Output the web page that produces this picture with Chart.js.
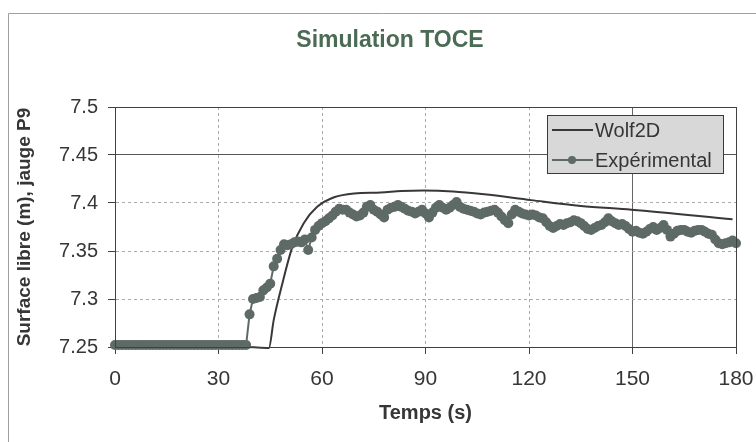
<!DOCTYPE html>
<html>
<head>
<meta charset="utf-8">
<title>Simulation TOCE</title>
<script src="https://cdn.jsdelivr.net/npm/chart.js@4.4.1/dist/chart.umd.min.js"></script>
<style>
  body { margin: 0; background: #fff; }
  canvas { display: block; }
</style>
</head>
<body>
<canvas id="toceChart" width="756" height="442"></canvas>
<script>
const TITLE = "Simulation TOCE";
const X_TITLE = "Temps (s)";
const Y_TITLE = "Surface libre (m), jauge P9";
const WOLF_LABEL = "Wolf2D";
const EXP_LABEL = "Expérimental";

const yTickLabels = ["7.25", "7.3", "7.35", "7.4", "7.45", "7.5"];

// Wolf2D simulation (s, m)
const wolfTimes = [0, 38, 44.6, 46, 48.5, 51.4, 54.7, 58.6, 63.5, 69.3, 77, 83, 89.5, 98, 107, 120.6, 135, 149.7, 179];
const wolfLevels = [7.25, 7.25, 7.249, 7.278, 7.316, 7.354, 7.379, 7.396, 7.406, 7.410, 7.411, 7.4125, 7.413, 7.412, 7.409, 7.403, 7.397, 7.393, 7.383];

// measured levels, one every second
const expTimes = [
    0, 1, 2, 3, 4, 5, 6, 7, 8, 9,
    10, 11, 12, 13, 14, 15, 16, 17, 18, 19,
    20, 21, 22, 23, 24, 25, 26, 27, 28, 29,
    30, 31, 32, 33, 34, 35, 36, 37, 38, 39,
    40, 41, 42, 43, 44, 45, 46, 47, 48, 49,
    50, 51, 52, 53, 54, 55, 56, 57, 58, 59,
    60, 61, 62, 63, 64, 65, 66, 67, 68, 69,
    70, 71, 72, 73, 74, 75, 76, 77, 78, 79,
    80, 81, 82, 83, 84, 85, 86, 87, 88, 89,
    90, 91, 92, 93, 94, 95, 96, 97, 98, 99,
    100, 101, 102, 103, 104, 105, 106, 107, 108, 109,
    110, 111, 112, 113, 114, 115, 116, 117, 118, 119,
    120, 121, 122, 123, 124, 125, 126, 127, 128, 129,
    130, 131, 132, 133, 134, 135, 136, 137, 138, 139,
    140, 141, 142, 143, 144, 145, 146, 147, 148, 149,
    150, 151, 152, 153, 154, 155, 156, 157, 158, 159,
    160, 161, 162, 163, 164, 165, 166, 167, 168, 169,
    170, 171, 172, 173, 174, 175, 176, 177, 178, 179, 180,
];
const expLevels = [
    7.252, 7.252, 7.252, 7.252, 7.252, 7.252, 7.252, 7.252, 7.252, 7.252,
    7.252, 7.252, 7.252, 7.252, 7.252, 7.252, 7.252, 7.252, 7.252, 7.252,
    7.252, 7.252, 7.252, 7.252, 7.252, 7.252, 7.252, 7.252, 7.252, 7.252,
    7.252, 7.252, 7.252, 7.252, 7.252, 7.252, 7.252, 7.252, 7.252, 7.284,
    7.300, 7.301, 7.302, 7.309, 7.312, 7.316, 7.334, 7.342, 7.351, 7.357,
    7.356, 7.357, 7.359, 7.360, 7.359, 7.362, 7.351, 7.364, 7.372, 7.376,
    7.379, 7.381, 7.384, 7.387, 7.391, 7.394, 7.393, 7.393, 7.390, 7.388,
    7.386, 7.387, 7.390, 7.396, 7.398, 7.393, 7.391, 7.388, 7.385, 7.393,
    7.395, 7.396, 7.398, 7.396, 7.394, 7.392, 7.391, 7.389, 7.391, 7.393,
    7.389, 7.385, 7.390, 7.395, 7.398, 7.395, 7.393, 7.395, 7.398, 7.401,
    7.396, 7.394, 7.393, 7.392, 7.391, 7.389, 7.388, 7.390, 7.391, 7.392,
    7.393, 7.390, 7.386, 7.382, 7.379, 7.388, 7.393, 7.391, 7.389, 7.388,
    7.387, 7.388, 7.387, 7.385, 7.384, 7.380, 7.376, 7.374, 7.376, 7.378,
    7.377, 7.379, 7.380, 7.382, 7.381, 7.379, 7.376, 7.373, 7.372, 7.374,
    7.376, 7.377, 7.380, 7.384, 7.381, 7.379, 7.377, 7.378, 7.376, 7.373,
    7.370, 7.371, 7.369, 7.368, 7.370, 7.373, 7.375, 7.372, 7.374, 7.377,
    7.372, 7.365, 7.368, 7.371, 7.372, 7.372, 7.370, 7.369, 7.371, 7.372,
    7.372, 7.370, 7.368, 7.367, 7.362, 7.358, 7.357, 7.358, 7.359, 7.361, 7.358,
];

const FONT = "'Liberation Sans', Arial, sans-serif";
const INK = "#363636";
const WOLF_COLOR = "#383838";
const EXP_COLOR = "#5e6a66";

function toPoints(xs, ys) {
    return xs.map((x, i) => ({ x: x, y: ys[i] }));
}

function isNear(a, b) {
    return Math.abs(a - b) < 1e-6;
}

// frame, plot box, title and the legend box like the Excel original
const decorations = {
    id: "decorations",
    beforeDraw(chart) {
        const ctx = chart.ctx;
        ctx.save();
        ctx.strokeStyle = "#a0a0a0";
        ctx.lineWidth = 1;
        ctx.beginPath();
        ctx.moveTo(8.5, 442);
        ctx.lineTo(8.5, 13.5);
        ctx.lineTo(756, 13.5);
        ctx.stroke();

        ctx.fillStyle = "#4b6b55";
        ctx.font = "bold 23px " + FONT;
        ctx.textAlign = "center";
        ctx.textBaseline = "middle";
        ctx.fillText(TITLE, 390, 41);
        ctx.restore();
    },
    afterDatasetsDraw(chart) {
        const ctx = chart.ctx;
        const area = chart.chartArea;
        ctx.save();
        ctx.strokeStyle = "#404040";
        ctx.lineWidth = 1;
        ctx.strokeRect(area.left + 0.5, area.top + 0.5, area.right - area.left, area.bottom - area.top);
        ctx.restore();
    },
    afterDraw(chart) {
        const ctx = chart.ctx;
        const box = { x: 547, y: 115, w: 176, h: 58 };
        ctx.save();
        ctx.fillStyle = "#d8d8d8";
        ctx.fillRect(box.x, box.y, box.w, box.h);
        ctx.strokeStyle = "#3a3a3a";
        ctx.lineWidth = 1;
        ctx.strokeRect(box.x + 0.5, box.y + 0.5, box.w, box.h);

        const rows = [
            { label: WOLF_LABEL, color: WOLF_COLOR, marker: false, y: box.y + 15 },
            { label: EXP_LABEL, color: EXP_COLOR, marker: true, y: box.y + 45 },
        ];
        ctx.font = "20px " + FONT;
        ctx.textAlign = "left";
        ctx.textBaseline = "middle";
        rows.forEach((row) => {
            ctx.strokeStyle = row.color;
            ctx.lineWidth = 2;
            ctx.beginPath();
            ctx.moveTo(box.x + 5, row.y);
            ctx.lineTo(box.x + 46, row.y);
            ctx.stroke();
            if (row.marker) {
                ctx.fillStyle = row.color;
                ctx.beginPath();
                ctx.arc(box.x + 25, row.y, 4, 0, Math.PI * 2);
                ctx.fill();
            }
            ctx.fillStyle = INK;
            ctx.fillText(row.label, box.x + 48, row.y + 1);
        });
        ctx.restore();
    },
};

new Chart(document.getElementById("toceChart"), {
    type: "line",
    data: {
        datasets: [
            {
                label: EXP_LABEL,
                data: toPoints(expTimes, expLevels),
                borderColor: EXP_COLOR,
                backgroundColor: EXP_COLOR,
                borderWidth: 2,
                pointRadius: 5,
                pointBorderWidth: 0,
                tension: 0,
                clip: false,
                order: 1,
            },
            {
                label: WOLF_LABEL,
                data: toPoints(wolfTimes, wolfLevels),
                borderColor: WOLF_COLOR,
                borderWidth: 2,
                pointRadius: 0,
                cubicInterpolationMode: "monotone",
                clip: false,
                order: 2,
            },
        ],
    },
    options: {
        responsive: false,
        animation: false,
        devicePixelRatio: 1,
        layout: { padding: { top: 107, right: 20, bottom: 0, left: 8 } },
        plugins: {
            legend: { display: false },
            tooltip: { enabled: false },
            title: { display: false },
        },
        scales: {
            x: {
                type: "linear",
                min: 0,
                max: 180,
                afterFit: (scale) => {
                    scale.height = 95;
                    scale.paddingRight = 0;
                },
                ticks: {
                    stepSize: 30,
                    color: INK,
                    padding: 13,
                    maxRotation: 0,
                    font: { family: FONT, size: 21 },
                },
                grid: {
                    color: (ctx) => (ctx.tick && isNear(ctx.tick.value, 150) ? "#666" : "#ababab"),
                    tickColor: "#404040",
                    tickLength: 7,
                },
                border: {
                    color: "#404040",
                    dash: (ctx) => (ctx.tick && isNear(ctx.tick.value, 150) ? [] : [3, 3]),
                },
                title: {
                    display: true,
                    text: X_TITLE,
                    color: INK,
                    font: { family: FONT, size: 20, weight: "bold" },
                    padding: { top: 0, bottom: 17 },
                },
            },
            y: {
                min: 7.25,
                max: 7.5,
                afterFit: (scale) => { scale.width = 107; },
                ticks: {
                    stepSize: 0.05,
                    color: INK,
                    padding: 10,
                    font: { family: FONT, size: 20 },
                    callback: (value, index) => yTickLabels[index],
                },
                grid: {
                    color: (ctx) => (ctx.tick && isNear(ctx.tick.value, 7.45) ? "#555" : "#ababab"),
                    tickColor: "#404040",
                    tickLength: 7,
                },
                border: {
                    color: "#404040",
                    dash: (ctx) => (ctx.tick && isNear(ctx.tick.value, 7.45) ? [] : [3, 3]),
                },
                title: {
                    display: true,
                    text: Y_TITLE,
                    color: INK,
                    font: { family: FONT, size: 19, weight: "bold" },
                    padding: { top: 5, bottom: 0 },
                },
            },
        },
    },
    plugins: [decorations],
});
</script>
</body>
</html>
